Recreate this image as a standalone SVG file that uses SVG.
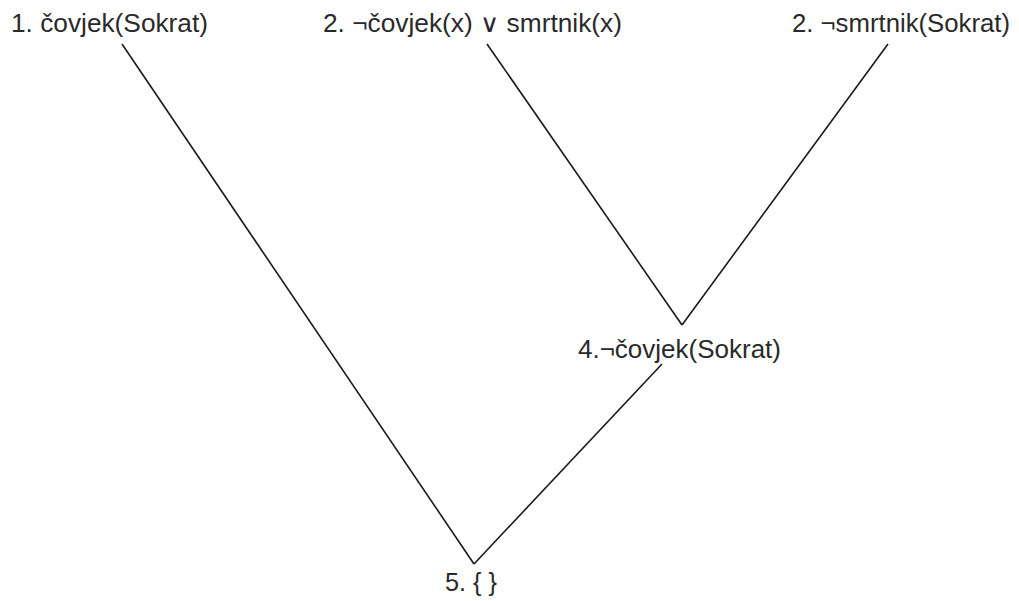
<svg xmlns="http://www.w3.org/2000/svg" width="1019" height="601" viewBox="0 0 1019 601">
<style>
text{font-family:"Liberation Sans",Arial,sans-serif;font-size:25px;fill:#2a2a2a}
.sym{font-family:"DejaVu Sans",sans-serif;font-weight:normal}
.e{stroke:#1a1a1a;stroke-width:1.6;fill:none}
</style>
<rect width="1019" height="601" fill="#fff"/>
<g id="connectors">
<line class="e" x1="122" y1="44" x2="474" y2="564"/>
<line class="e" x1="487" y1="44" x2="682" y2="325"/>
<line class="e" x1="888" y1="44" x2="682" y2="325"/>
<line class="e" x1="662" y1="364" x2="474" y2="564"/>
</g>
<g id="n1"><text x="11" y="32" textLength="197" lengthAdjust="spacingAndGlyphs">1. čovjek(Sokrat)</text></g>
<g id="n2"><text x="323" y="32" textLength="299" lengthAdjust="spacingAndGlyphs">2. ¬čovjek(x) <tspan class="sym">∨</tspan> smrtnik(x)</text></g>
<g id="n3"><text x="792" y="32" textLength="218" lengthAdjust="spacingAndGlyphs">2. ¬smrtnik(Sokrat)</text></g>
<g id="n4"><text x="578" y="358" textLength="203" lengthAdjust="spacingAndGlyphs">4.¬čovjek(Sokrat)</text></g>
<g id="n5"><text x="445" y="591" textLength="52" lengthAdjust="spacingAndGlyphs">5. { }</text></g>
</svg>
